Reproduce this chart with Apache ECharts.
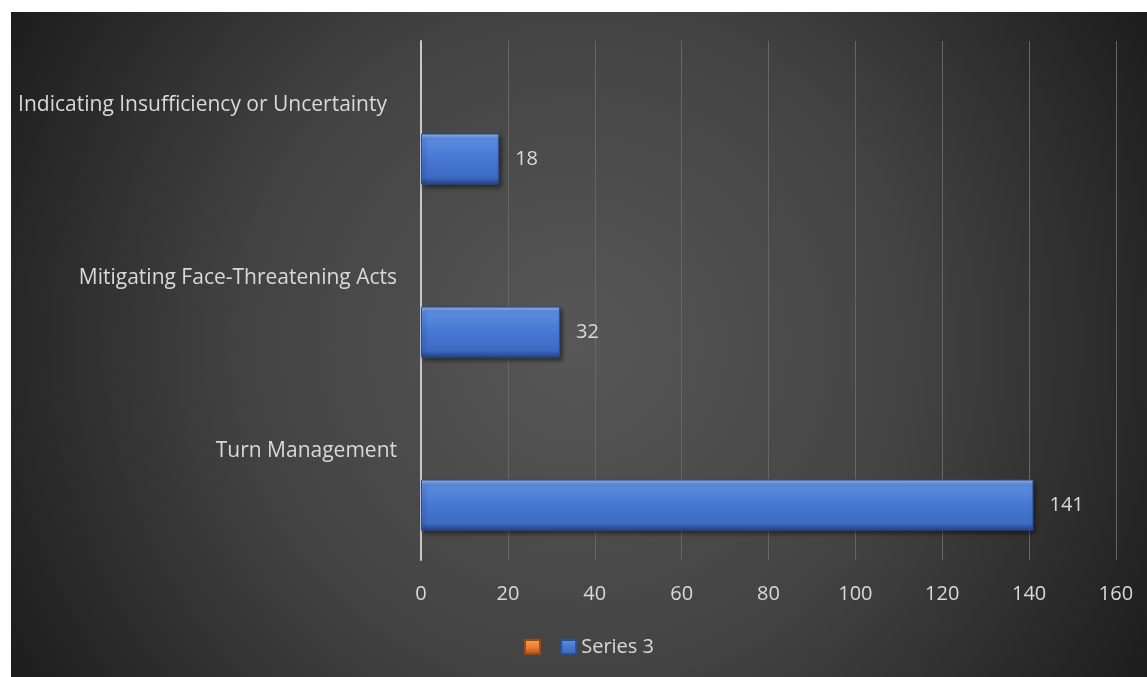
<!DOCTYPE html>
<html>
<head>
<meta charset="utf-8">
<script src="https://cdn.jsdelivr.net/npm/echarts@6/dist/echarts.min.js"></script>
<style>
  html, body { margin: 0; padding: 0; background: #ffffff; }
  #chart { position: absolute; left: 11px; top: 12px; width: 1136px; height: 665px; }
</style>
</head>
<body>
<div id="chart"></div>
<script>
// Categories listed bottom-to-top (category axis on y)
const categories = ['Turn Management', 'Mitigating Face-Threatening Acts', 'Indicating Insufficiency or Uncertainty'];
const series3Values = [141, 32, 18];
const unnamedValues = [null, null, null];
const xTicks = { min: 0, max: 160, interval: 20 };

const FONT = 'Open Sans';
const TEXT = '#d9d9d9';
const FS = 20;
const CAT_FS = 21;

const chart = echarts.init(document.getElementById('chart'), null, { renderer: 'canvas' });

const blueBar = {
  type: 'linear', x: 0, y: 0, x2: 0, y2: 1,
  colorStops: [
    { offset: 0, color: '#9bbcf2' },
    { offset: 0.1, color: '#5d8de0' },
    { offset: 0.5, color: '#4677d2' },
    { offset: 0.86, color: '#3d6bc4' },
    { offset: 1, color: '#22427f' }
  ]
};
const orangeBar = {
  type: 'linear', x: 0, y: 0, x2: 0, y2: 1,
  colorStops: [
    { offset: 0, color: '#f7a45c' },
    { offset: 0.5, color: '#ed7d31' },
    { offset: 1, color: '#a9531c' }
  ]
};

chart.setOption({
  backgroundColor: {
    type: 'radial', x: 0.5, y: 0.5, r: 1.0,
    colorStops: [
      { offset: 0, color: '#575757' },
      { offset: 0.5, color: '#434343' },
      { offset: 1, color: '#1c1c1c' }
    ]
  },
  animation: false,
  textStyle: { fontFamily: FONT },
  grid: { left: 410, right: 31, top: 29, bottom: 117, containLabel: false },
  legend: {
    top: 620,
    left: 508,
    itemWidth: 15,
    itemHeight: 14,
    itemGap: 10,
    data: [' ', 'Series 3'],
    textStyle: { color: TEXT, fontSize: FS, fontFamily: FONT },
    icon: 'rect'
  },
  xAxis: {
    type: 'value',
    min: xTicks.min, max: xTicks.max, interval: xTicks.interval,
    axisLine: { show: false },
    axisTick: { show: false },
    axisLabel: { color: TEXT, fontSize: FS, margin: 24, fontFamily: FONT },
    splitLine: { show: true, lineStyle: { color: '#666666', width: 1 } }
  },
  yAxis: {
    type: 'category',
    data: categories,
    axisLine: { show: true, lineStyle: { color: '#c8c8c8', width: 2 } },
    axisTick: { show: false },
    axisLabel: {
      color: TEXT, fontSize: CAT_FS, margin: 24, fontFamily: FONT,
      verticalAlign: 'middle',
      padding: [0, 0, 44, 0],
      formatter: function (v, i) {
        return i === 2 ? '{w|' + v + '}' : v;
      },
      rich: {
        w: { color: TEXT, fontSize: CAT_FS, fontFamily: FONT, padding: [0, 10, 0, 0] }
      }
    }
  },
  series: [
    {
      name: ' ',
      type: 'bar',
      data: unnamedValues,
      barWidth: 51,
      barGap: '24%',
      itemStyle: { color: orangeBar, borderColor: '#9c4a14', borderWidth: 1 }
    },
    {
      name: 'Series 3',
      type: 'bar',
      data: series3Values,
      barWidth: 51,
      barGap: '24%',
      itemStyle: {
        color: blueBar,
        borderColor: '#2a4f96',
        borderWidth: 1,
        shadowColor: 'rgba(0,0,0,0.45)',
        shadowBlur: 4,
        shadowOffsetX: 2,
        shadowOffsetY: 3
      },
      label: {
        show: true, position: 'right', distance: 16,
        color: TEXT, fontSize: FS, fontFamily: FONT
      }
    }
  ]
});
</script>
</body>
</html>
